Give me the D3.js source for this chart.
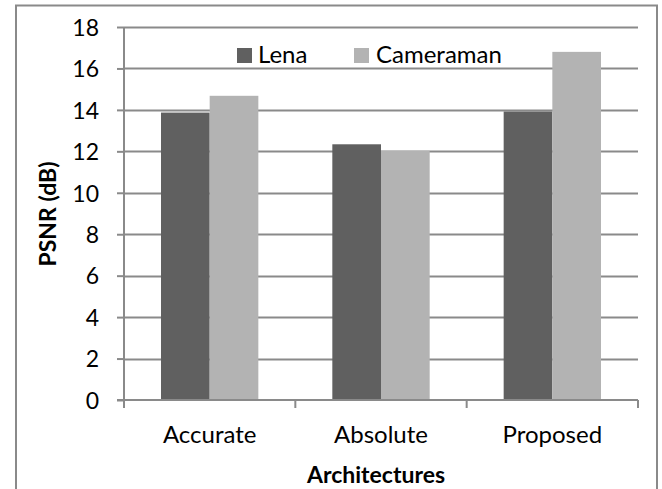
<!DOCTYPE html>
<html>
<head>
<meta charset="utf-8">
<script src="https://cdn.jsdelivr.net/npm/d3@7"></script>
<style>
  html, body { margin: 0; padding: 0; background: #fff; }
  svg { display: block; font-family: Lato, "Open Sans", sans-serif; }
</style>
</head>
<body>
<svg id="chart" width="662" height="489"></svg>
<script>
// PSNR per architecture for the two test images
const categories = ["Accurate", "Absolute", "Proposed"];
const seriesNames = ["Lena", "Cameraman"];
const lena = [13.87, 12.34, 13.92];
const cameraman = [14.68, 12.02, 16.8];
const yTicks = [0, 2, 4, 6, 8, 10, 12, 14, 16, 18];

const colors = { Lena: "#606060", Cameraman: "#b3b3b3" };
const rows = categories.map((c, i) => ({ category: c, Lena: lena[i], Cameraman: cameraman[i] }));

const svg = d3.select("#chart");
const plot = { left: 124, right: 638, top: 27, bottom: 400 };
const grey = "#8a8a8a";

// Outer frame (bottom edge falls outside the canvas)
svg.append("rect")
  .attr("x", 16).attr("y", 5.5)
  .attr("width", 641).attr("height", 500)
  .attr("fill", "none").attr("stroke", grey).attr("stroke-width", 2);

const x = d3.scaleBand().domain(categories).range([plot.left, plot.right]).padding(0);
const xInner = d3.scaleBand().domain(seriesNames).range([0, x.bandwidth()]).paddingInner(0).paddingOuter(0.76);
const y = d3.scaleLinear().domain([0, 18]).range([plot.bottom, plot.top]);

// Horizontal gridlines
svg.append("g")
  .selectAll("line")
  .data(yTicks.filter(t => t > 0))
  .join("line")
  .attr("x1", plot.left).attr("x2", plot.right)
  .attr("y1", d => Math.round(y(d)) + 0.5).attr("y2", d => Math.round(y(d)) + 0.5)
  .attr("stroke", grey).attr("stroke-width", 2);

// Bars
const groups = svg.append("g")
  .selectAll("g")
  .data(rows)
  .join("g")
  .attr("transform", d => `translate(${x(d.category)},0)`);

groups.selectAll("rect")
  .data(d => seriesNames.map(k => ({ key: k, value: d[k] })))
  .join("rect")
  .attr("x", d => xInner(d.key))
  .attr("width", xInner.bandwidth())
  .attr("y", d => y(d.value))
  .attr("height", d => y(0) - y(d.value))
  .attr("fill", d => colors[d.key]);

// Y axis
const yAxis = svg.append("g")
  .attr("transform", `translate(${plot.left},0)`)
  .call(d3.axisLeft(y).tickValues(yTicks).tickSize(7));
yAxis.select(".domain").attr("stroke", grey).attr("stroke-width", 2)
  .attr("d", `M0,${plot.top}V${plot.bottom + 8}`);
yAxis.selectAll(".tick line").attr("stroke", grey).attr("stroke-width", 2);
yAxis.selectAll(".tick text")
  .attr("x", -25)
  .attr("dy", "0.36em")
  .attr("font-size", 23).attr("fill", "#000")
  .attr("font-family", "Lato, sans-serif");

// X axis with boundary ticks between categories
const xAxisG = svg.append("g").attr("transform", `translate(0,${plot.bottom})`);
xAxisG.append("line")
  .attr("x1", plot.left - 7).attr("x2", plot.right)
  .attr("y1", 0).attr("y2", 0)
  .attr("stroke", grey).attr("stroke-width", 2);
const boundaries = categories.map(c => x(c)).concat([x(categories[categories.length - 1]) + x.bandwidth()]);
xAxisG.selectAll(".bt")
  .data(boundaries)
  .join("line")
  .attr("class", "bt")
  .attr("x1", d => d).attr("x2", d => d)
  .attr("y1", 0).attr("y2", 8)
  .attr("stroke", grey).attr("stroke-width", 2);
xAxisG.selectAll(".cl")
  .data(categories)
  .join("text")
  .attr("class", "cl")
  .attr("x", d => x(d) + x.bandwidth() / 2)
  .attr("y", 43)
  .attr("text-anchor", "middle")
  .attr("font-size", 24)
  .text(d => d);

// Axis titles
svg.append("text")
  .attr("x", 376)
  .attr("y", 483)
  .attr("text-anchor", "middle")
  .attr("font-size", 23).attr("font-weight", "bold")
  .text("Architectures");

svg.append("text")
  .attr("transform", `translate(56,214) rotate(-90)`)
  .attr("text-anchor", "middle")
  .attr("font-size", 23).attr("font-weight", "bold")
  .text("PSNR (dB)");

// Legend
const legendItems = [
  { key: "Lena", sx: 237, tx: 258 },
  { key: "Cameraman", sx: 354, tx: 376 }
];
const legend = svg.append("g");
legendItems.forEach(it => {
  legend.append("rect")
    .attr("x", it.sx).attr("y", 48)
    .attr("width", 15).attr("height", 15)
    .attr("fill", colors[it.key]);
  legend.append("text")
    .attr("x", it.tx).attr("y", 63)
    .attr("font-size", 24)
    .text(it.key);
});
</script>
</body>
</html>
